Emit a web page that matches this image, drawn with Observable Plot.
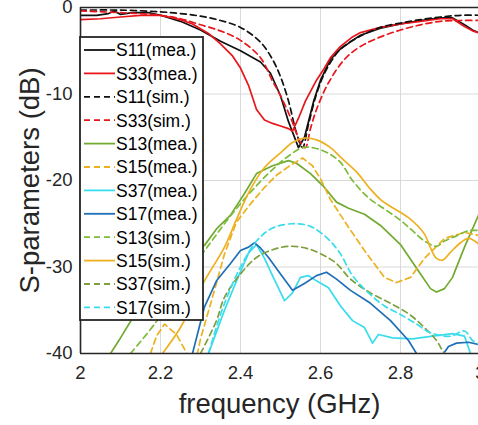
<!DOCTYPE html>
<html>
<head>
<meta charset="utf-8">
<script src="https://cdn.jsdelivr.net/npm/d3@7"></script>
<script src="https://cdn.jsdelivr.net/npm/@observablehq/plot@0.6"></script>
<style>
  html, body { margin: 0; padding: 0; background: #fff; }
  #chart { width: 478px; height: 425px; overflow: hidden; }
</style>
</head>
<body>
<div id="chart"></div>
<script>
// ---- tick labels / axis titles ----
const xTicks = [2, 2.2, 2.4, 2.6, 2.8, 3];
const yTicks = [0, -10, -20, -30, -40];
const xTitle = "frequency (GHz)";
const yTitle = "S-parameters (dB)";

// ---- series: [frequency GHz, dB] ----
const S11_mea = [[2.00,-0.9],[2.04,-0.9],[2.07,-0.7],[2.085,-0.4],[2.10,-0.8],[2.13,-0.6],[2.17,-0.6],[2.20,-0.9],[2.25,-1.6],[2.30,-2.6],[2.35,-3.9],[2.40,-5.0],[2.45,-6.3],[2.475,-7.6],[2.50,-10.2],[2.52,-13.2],[2.545,-16.2],[2.56,-15.0],[2.583,-10.8],[2.60,-8.4],[2.625,-6.0],[2.65,-4.8],[2.68,-3.8],[2.70,-3.2],[2.75,-2.4],[2.80,-1.9],[2.85,-1.5],[2.90,-1.2],[2.93,-1.2],[2.96,-2.0],[2.98,-2.6],[3.00,-3.0]];
const S33_mea = [[2.00,-1.4],[2.05,-1.3],[2.10,-1.1],[2.15,-0.9],[2.20,-0.9],[2.25,-1.4],[2.28,-1.9],[2.32,-3.0],[2.35,-4.2],[2.38,-5.6],[2.40,-7.0],[2.42,-9.0],[2.44,-11.8],[2.46,-13.0],[2.48,-13.4],[2.50,-13.7],[2.52,-14.0],[2.53,-14.3],[2.545,-12.8],[2.5625,-10.8],[2.59,-8.4],[2.61,-7.0],[2.625,-5.8],[2.65,-4.5],[2.68,-3.4],[2.70,-2.9],[2.75,-2.3],[2.80,-1.9],[2.85,-1.6],[2.90,-1.3],[2.93,-1.3],[2.96,-2.2],[2.98,-2.7],[3.00,-3.0]];
const S11_sim = [[2.00,-0.3],[2.10,-0.3],[2.20,-0.5],[2.25,-0.7],[2.30,-1.0],[2.35,-1.5],[2.40,-2.3],[2.45,-4.0],[2.48,-6.0],[2.50,-8.0],[2.52,-10.8],[2.54,-14.5],[2.555,-16.2],[2.57,-13.5],[2.59,-10.0],[2.61,-7.6],[2.63,-6.0],[2.65,-4.8],[2.70,-3.3],[2.75,-2.3],[2.80,-1.8],[2.85,-1.4],[2.90,-1.1],[2.95,-0.9],[3.00,-0.9]];
const S33_sim = [[2.00,-0.4],[2.10,-0.6],[2.20,-0.9],[2.25,-1.3],[2.30,-2.0],[2.35,-2.7],[2.40,-3.8],[2.45,-5.8],[2.48,-8.5],[2.50,-10.2],[2.525,-12.7],[2.55,-15.6],[2.562,-16.2],[2.575,-14.0],[2.59,-11.8],[2.62,-8.7],[2.66,-6.0],[2.70,-4.5],[2.75,-3.4],[2.80,-2.6],[2.85,-2.0],[2.90,-1.6],[2.95,-1.5],[3.00,-1.5]];
const S13_mea = [[2.075,-40],[2.10,-38.2],[2.125,-36.3],[2.20,-31.5],[2.25,-29.5],[2.31,-27.5],[2.34,-25.6],[2.375,-24.0],[2.41,-21.5],[2.44,-19.2],[2.48,-18.3],[2.52,-17.7],[2.54,-18.0],[2.575,-19.2],[2.61,-20.8],[2.64,-22.5],[2.67,-23.2],[2.71,-23.9],[2.75,-25.2],[2.80,-27.4],[2.85,-30.8],[2.875,-32.5],[2.89,-32.9],[2.91,-32.5],[2.93,-31.2],[2.96,-27.7],[3.00,-23.5]];
const S15_mea = [[2.175,-40],[2.19,-38.0],[2.21,-36.6],[2.225,-37.2],[2.24,-37.8],[2.26,-39.5],[2.275,-41],[2.29,-40.5],[2.30,-38.3],[2.33,-33.5],[2.36,-28.5],[2.39,-24.8],[2.425,-22.7],[2.46,-20.8],[2.49,-19.4],[2.52,-18.4],[2.555,-17.4],[2.58,-18.3],[2.60,-19.8],[2.625,-22.2],[2.67,-25.4],[2.71,-28.1],[2.76,-31.2],[2.79,-31.8],[2.825,-31.2],[2.86,-29.0],[2.91,-26.7],[2.96,-26.0],[3.00,-26.4]];
const S37_mea = [[2.32,-40],[2.34,-37.5],[2.36,-35.0],[2.39,-31.6],[2.42,-28.4],[2.44,-27.4],[2.46,-29.0],[2.48,-31.0],[2.51,-33.9],[2.53,-33.0],[2.55,-31.2],[2.57,-31.0],[2.59,-31.6],[2.62,-32.4],[2.65,-34.5],[2.68,-36.2],[2.71,-37.0],[2.73,-38.8],[2.745,-37.8],[2.78,-38.2],[2.83,-38.3],[2.88,-38.0],[2.93,-37.7],[2.96,-38.0],[2.975,-40],[2.99,-41]];
const S17_mea = [[2.28,-40],[2.31,-34.6],[2.34,-31.6],[2.375,-29.6],[2.40,-28.1],[2.42,-27.7],[2.435,-27.2],[2.45,-27.8],[2.47,-28.9],[2.50,-30.8],[2.53,-32.7],[2.56,-31.9],[2.59,-31.0],[2.615,-30.6],[2.64,-31.4],[2.675,-32.7],[2.725,-34.2],[2.775,-36.2],[2.82,-38.5],[2.84,-40],[2.87,-41.5],[2.90,-40.5],[2.92,-39.2],[2.94,-38.8],[2.97,-38.7],[3.00,-39.0]];
const S13_sim = [[2.125,-40],[2.19,-36.3],[2.25,-32.0],[2.32,-27.5],[2.38,-23.8],[2.44,-20.6],[2.49,-18.3],[2.525,-17.0],[2.555,-16.2],[2.59,-16.3],[2.625,-17.0],[2.65,-17.9],[2.68,-20.0],[2.72,-22.0],[2.76,-23.3],[2.80,-24.6],[2.83,-25.8],[2.86,-27.0],[2.89,-27.6],[2.91,-27.0],[2.94,-26.4],[2.97,-25.8],[3.00,-25.8]];
const S15_sim = [[2.205,-40],[2.25,-37.0],[2.31,-31.6],[2.36,-27.7],[2.39,-24.5],[2.425,-21.0],[2.46,-18.5],[2.50,-16.8],[2.53,-15.6],[2.56,-15.1],[2.59,-15.3],[2.625,-16.2],[2.65,-17.3],[2.69,-19.0],[2.725,-21.0],[2.75,-22.2],[2.775,-23.0],[2.82,-24.3],[2.86,-26.2],[2.875,-27.8],[2.89,-29.0],[2.905,-29.2],[2.925,-28.3],[2.95,-27.2],[2.97,-26.7],[3.00,-27.5]];
const S37_sim = [[2.30,-40],[2.34,-36.2],[2.36,-33.5],[2.40,-30.8],[2.44,-28.9],[2.48,-28.0],[2.525,-27.6],[2.57,-27.9],[2.61,-28.7],[2.64,-29.6],[2.675,-31.4],[2.725,-33.0],[2.775,-34.2],[2.82,-35.4],[2.86,-37.0],[2.89,-38.5],[2.91,-40],[2.95,-42]];
const S17_sim = [[2.32,-40],[2.35,-35.5],[2.375,-32.5],[2.40,-30.0],[2.44,-27.0],[2.48,-25.5],[2.53,-25.0],[2.575,-25.3],[2.62,-26.8],[2.65,-28.5],[2.68,-31.0],[2.72,-33.0],[2.76,-34.5],[2.80,-35.5],[2.84,-36.6],[2.875,-37.6],[2.925,-38.0],[2.96,-37.4],[2.98,-38.5],[3.00,-39.0]];

// ---- legend order, names, styles ----
const seriesNames = ["S11(mea.)","S33(mea.)","S11(sim.)","S33(sim.)","S13(mea.)","S15(mea.)","S37(mea.)","S17(mea.)","S13(sim.)","S15(sim.)","S37(sim.)","S17(sim.)"];
const seriesData  = [S11_mea, S33_mea, S11_sim, S33_sim, S13_mea, S15_mea, S37_mea, S17_mea, S13_sim, S15_sim, S37_sim, S17_sim];
const seriesColor = ["#111111","#e8161b","#111111","#e8161b","#72aa30","#edb120","#38dcec","#1f6fb8","#7dbb3a","#edb120","#7ea03c","#38dcec"];
const seriesDash  = [null, null, "6,4", "6,4", null, "6,4", null, null, "6,4", null, "6,4", "6,4"];
const seriesSmooth = [false,false,true,true,false,false,false,false,true,true,true,true];

const font = "'Liberation Sans', Arial, Helvetica, sans-serif";
const ink = "#262626";

const lineMarks = seriesData.map((data, i) => Plot.line(data, {
  x: d => d[0], y: d => d[1],
  stroke: seriesColor[i], strokeWidth: 1.7,
  strokeDasharray: seriesDash[i] || undefined,
  curve: seriesSmooth[i] ? "catmull-rom" : "linear",
  clip: true
}));

const svg = Plot.plot({
  width: 478, height: 425,
  marginLeft: 80, marginRight: 0, marginTop: 7, marginBottom: 72,
  style: { fontFamily: font, background: "#fff", color: ink, overflow: "visible" },
  x: { domain: [2, 3], range: [80, 480] },
  y: { domain: [-40, 0] },
  marks: [
    Plot.gridX(xTicks, { stroke: "#d9d9d9", strokeOpacity: 1, strokeWidth: 1 }),
    Plot.gridY(yTicks, { stroke: "#d9d9d9", strokeOpacity: 1, strokeWidth: 1 }),
    ...lineMarks,
    Plot.ruleY([yTicks[0], yTicks[yTicks.length - 1]], { stroke: ink, strokeWidth: 1.6 }),
    Plot.ruleX([xTicks[0]], { stroke: ink, strokeWidth: 1.6 }),
    Plot.axisX(xTicks, { tickSize: 0, tickPadding: 12, fontSize: 18.5, fill: ink, label: null, tickFormat: d => String(d) }),
    Plot.axisY(yTicks, { tickSize: 0, tickPadding: 8, fontSize: 18.5, fill: ink, label: null, tickFormat: d => String(d) }),
    Plot.text([yTitle], { text: d => d, frameAnchor: "left", textAnchor: "middle", dx: -50, rotate: -90, fontSize: 27.5, fill: ink }),
    Plot.text([xTitle], { text: d => d, frameAnchor: "bottom", textAnchor: "middle", dy: 59, fontSize: 27.5, fill: ink })
  ]
});

// ---- legend box (inside the axes, top-left) ----
const lg = { x: 80, y: 37, w: 123, h: 283, row0: 13, step: 23.4, lx1: 4, lx2: 35, tx: 36 };
const g = d3.select(svg).append("g").attr("font-family", font).attr("text-anchor", "start");
g.append("rect").attr("x", lg.x).attr("y", lg.y).attr("width", lg.w).attr("height", lg.h)
  .attr("fill", "#fff").attr("stroke", ink).attr("stroke-width", 1.8);
seriesNames.forEach((name, i) => {
  const yy = lg.y + lg.row0 + i * lg.step;
  g.append("line").attr("x1", lg.x + lg.lx1).attr("x2", lg.x + lg.lx2).attr("y1", yy).attr("y2", yy)
    .attr("stroke", seriesColor[i]).attr("stroke-width", 1.8)
    .attr("stroke-dasharray", seriesDash[i]);
  g.append("text").attr("x", lg.x + lg.tx).attr("y", yy).attr("dy", "0.36em")
    .attr("text-anchor", "start")
    .attr("font-size", 17.5).attr("fill", "#000").text(name);
});

document.getElementById("chart").appendChild(svg);
</script>
</body>
</html>
